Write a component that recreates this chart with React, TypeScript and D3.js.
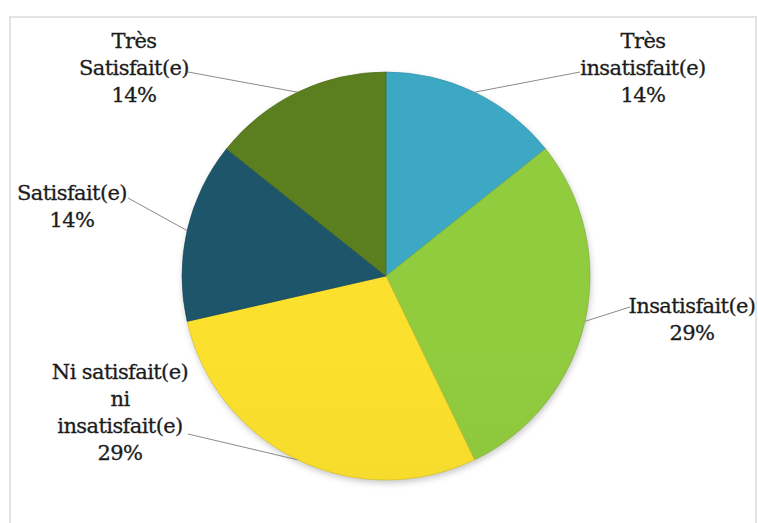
import React from "react";
import * as d3 from "d3";

const categories = [
  "Très\ninsatisfait(e)",
  "Insatisfait(e)",
  "Ni satisfait(e)\nni\ninsatisfait(e)",
  "Satisfait(e)",
  "Très\nSatisfait(e)",
];
const values = [1, 2, 2, 1, 1];
const colors = ["#3ba2bd", "#8cc43c", "#f2d82b", "#1c5266", "#587a1d"];

// label layout: text center x, first baseline y, leader start
const labelLayout = [
  { x: 643, y: 48, lx: 580, ly: 72 },
  { x: 692, y: 313, lx: 630, ly: 307 },
  { x: 120, y: 379, lx: 188, ly: 434 },
  { x: 72, y: 200, lx: 128, ly: 198 },
  { x: 134, y: 48, lx: 188, ly: 72 },
];

const W = 758;
const H = 523;
const cx = 386;
const cy = 276;
const R = 204;
const lineH = 27;
const FONT = "'DejaVu Serif', 'Liberation Serif', serif";

export default function App() {
  const total = d3.sum(values);
  const pie = d3.pie<number>().sort(null).value((d) => d)(values);
  const arc = d3.arc<d3.PieArcDatum<number>>().innerRadius(0).outerRadius(R);
  const pct = (v: number) => `${Math.round((v / total) * 100)}%`;

  return (
    <svg
      width={W}
      height={H}
      style={{ position: "absolute", left: 0, top: 0, background: "#fff" }}
    >
      <defs>
        {colors.map((c, i) => (
          <linearGradient
            key={i}
            id={`g${i}`}
            gradientUnits="userSpaceOnUse"
            x1={0}
            y1={cy - R}
            x2={0}
            y2={cy + R}
          >
            <stop offset="0%" stopColor={d3.color(c)!.brighter(0.1).toString()} />
            <stop offset="60%" stopColor={c} />
            <stop offset="100%" stopColor={d3.color(c)!.darker(0.15).toString()} />
          </linearGradient>
        ))}
        <filter id="shadow" x="-20%" y="-20%" width="140%" height="140%">
          <feGaussianBlur stdDeviation="3" />
        </filter>
      </defs>
      <rect x={10} y={17} width={746} height={H} fill="#fff" stroke="#dcdcdc" strokeWidth={1.5} />
      <circle cx={cx + 1} cy={cy + 3} r={R} fill="rgba(0,0,0,0.22)" filter="url(#shadow)" />
      <g transform={`translate(${cx},${cy})`}>
        {pie.map((p, i) => (
          <path
            key={i}
            d={arc(p) || ""}
            fill={`url(#g${i})`}
            stroke={d3.color(colors[i])!.darker(0.4).toString()}
            strokeWidth={0.6}
          />
        ))}
      </g>
      {pie.map((p, i) => {
        const a = (p.startAngle + p.endAngle) / 2;
        const ex = cx + Math.sin(a) * R;
        const ey = cy - Math.cos(a) * R;
        const L = labelLayout[i];
        return (
          <line key={i} x1={L.lx} y1={L.ly} x2={ex} y2={ey} stroke="#8a8a8a" strokeWidth={1} />
        );
      })}
      {pie.map((p, i) => {
        const L = labelLayout[i];
        const lines = [...categories[i].split("\n"), pct(values[i])];
        return (
          <text
            key={i}
            textAnchor="middle"
            style={{ fontFamily: FONT, fontSize: "21px", letterSpacing: "-0.6px" }}
            fill="#1c1c1c"
            stroke="#1c1c1c"
            strokeWidth={0.3}
          >
            {lines.map((t, j) => (
              <tspan key={j} x={L.x} y={L.y + j * lineH}>
                {t}
              </tspan>
            ))}
          </text>
        );
      })}
    </svg>
  );
}
